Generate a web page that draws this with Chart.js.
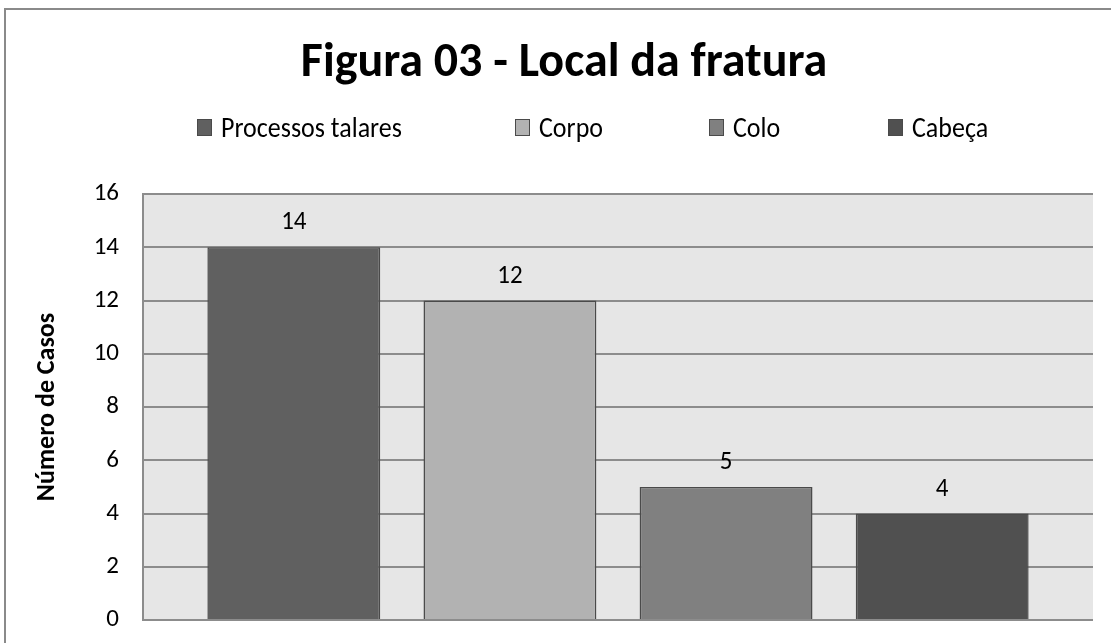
<!DOCTYPE html>
<html><head><meta charset="utf-8">
<script src="https://cdn.jsdelivr.net/npm/chart.js@4/dist/chart.umd.min.js"></script>
<style>html,body{margin:0;padding:0;background:#fff;overflow:hidden}#wrap{width:1111px;height:643px;position:relative;overflow:hidden}canvas{display:block}</style>
</head><body><div id="wrap"><canvas id="c" width="1111" height="659"></canvas></div>
<script>
const chartTitle = 'Figura 03 - Local da fratura';
const yAxisTitle = 'Número de Casos';
const categories = [''];
const seriesNames = ['Processos talares', 'Corpo', 'Colo', 'Cabeça'];
const seriesValues = [14, 12, 5, 4];
const seriesColors = ['#606060', '#b2b2b2', '#808080', '#505050'];
const yTicks = [0, 2, 4, 6, 8, 10, 12, 14, 16];
const FONT = "Carlito, 'Liberation Sans Narrow', 'Open Sans', 'Noto Sans', sans-serif";

const datasets = seriesNames.map((n, i) => ({
  label: n,
  data: [seriesValues[i]],
  backgroundColor: seriesColors[i],
  borderColor: '#4a4a4a',
  borderWidth: 1.5,
  categoryPercentage: 0.91,
  barPercentage: 0.8
}));

const framePlugin = {
  id: 'frame',
  beforeDraw(chart) {
    const ctx = chart.ctx, a = chart.chartArea;
    ctx.save();
    ctx.fillStyle = '#fff';
    ctx.fillRect(0, 0, chart.width, chart.height);
    ctx.strokeStyle = '#8a8a8a';
    ctx.lineWidth = 2;
    ctx.strokeRect(5, 9, chart.width + 20, chart.height + 20);
    ctx.fillStyle = '#e6e6e6';
    ctx.fillRect(a.left, a.top, a.right - a.left, a.bottom - a.top);
    ctx.restore();
  },
  afterDraw(chart) {
    const ctx = chart.ctx;
    ctx.save();
    // title
    ctx.fillStyle = '#000';
    ctx.font = 'bold 48px ' + FONT;
    ctx.textAlign = 'center';
    ctx.textBaseline = 'alphabetic';
    ctx.fillText(chartTitle, 564, 76);
    // legend
    const xs = [197, 515, 709, 888];
    ctx.textAlign = 'left';
    chart.data.datasets.forEach((ds, i) => {
      ctx.fillStyle = ds.backgroundColor;
      ctx.fillRect(xs[i], 119, 15, 17);
      ctx.strokeStyle = '#4a4a4a';
      ctx.lineWidth = 1;
      ctx.strokeRect(xs[i] + 0.5, 119.5, 14, 16);
      ctx.fillStyle = '#000';
      ctx.save();
      ctx.translate(xs[i] + 24, 137);
      ctx.scale(1, 1.1);
      ctx.font = '26px ' + FONT;
      ctx.fillText(ds.label, 0, 0);
      ctx.restore();
    });
    // value labels
    ctx.font = '25px ' + FONT;
    ctx.textAlign = 'center';
    ctx.fillStyle = '#000';
    chart.data.datasets.forEach((ds, i) => {
      const meta = chart.getDatasetMeta(i);
      meta.data.forEach((bar, j) => {
        ctx.save();
        ctx.translate(bar.x, bar.y - 18);
        ctx.scale(1, 1.08);
        ctx.fillText(String(ds.data[j]), 0, 0);
        ctx.restore();
      });
    });
    ctx.restore();
  }
};

new Chart(document.getElementById('c'), {
  type: 'bar',
  data: { labels: categories, datasets },
  options: {
    responsive: false,
    animation: false,
    devicePixelRatio: 1,
    layout: { autoPadding: false, padding: { left: 32, right: 18, top: 194, bottom: 7 } },
    plugins: {
      legend: { display: false },
      tooltip: { enabled: false },
      title: { display: false }
    },
    scales: {
      x: { display: false },
      y: {
        min: 0, max: 16,
        afterBuildTicks(s) { s.ticks = yTicks.map(v => ({ value: v })); },
        afterFit(s) { s.width = 111; },
        ticks: { color: '#000', font: { family: FONT, size: 25 }, padding: 24 },
        grid: { color: '#8c8c8c', lineWidth: 2, drawTicks: false },
        border: { display: true, color: '#8c8c8c', width: 2 },
        title: { display: true, text: yAxisTitle, color: '#000', font: { family: FONT, size: 26, weight: 'bold' }, padding: 0 }
      }
    }
  },
  plugins: [framePlugin]
});
</script></body></html>
